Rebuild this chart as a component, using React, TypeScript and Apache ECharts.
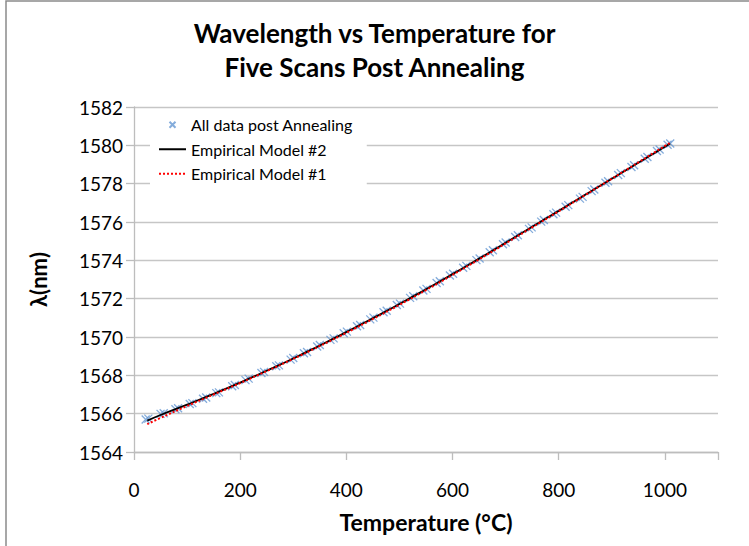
import React, { useEffect, useRef } from "react";
import * as echarts from "echarts";

const xTickValues = [0, 200, 400, 600, 800, 1000];
const yTickValues = [1564, 1566, 1568, 1570, 1572, 1574, 1576, 1578, 1580, 1582];

const scanATemp = [22, 50, 78, 105, 130, 155, 185, 210, 240, 268, 295, 320, 345, 370, 395, 420, 445, 470, 495, 520, 545, 570, 595, 620, 645, 670, 695, 718, 744, 767, 790, 813, 840, 862, 888, 912, 937, 962, 985, 1005];
const scanAWl = [1565.70, 1565.99, 1566.23, 1566.50, 1566.78, 1567.07, 1567.43, 1567.75, 1568.12, 1568.47, 1568.82, 1569.15, 1569.50, 1569.85, 1570.20, 1570.56, 1570.92, 1571.29, 1571.67, 1572.04, 1572.43, 1572.82, 1573.21, 1573.61, 1574.01, 1574.42, 1574.84, 1575.22, 1575.64, 1576.02, 1576.40, 1576.80, 1577.22, 1577.61, 1578.05, 1578.45, 1578.87, 1579.30, 1579.70, 1580.03];

const scanBTemp = [27, 56, 83, 110, 136, 160, 190, 216, 245, 273, 300, 326, 350, 376, 401, 426, 451, 476, 501, 526, 551, 576, 601, 626, 651, 676, 700, 723, 749, 772, 795, 818, 845, 867, 893, 917, 942, 967, 990, 1010];
const scanBWl = [1565.74, 1566.02, 1566.28, 1566.55, 1566.84, 1567.11, 1567.50, 1567.83, 1568.18, 1568.52, 1568.90, 1569.22, 1569.58, 1569.93, 1570.28, 1570.63, 1571.01, 1571.37, 1571.74, 1572.13, 1572.51, 1572.91, 1573.30, 1573.71, 1574.10, 1574.53, 1574.93, 1575.31, 1575.72, 1576.10, 1576.49, 1576.88, 1577.31, 1577.70, 1578.13, 1578.55, 1578.96, 1579.39, 1579.78, 1580.10];

const modelTemp = [25, 50, 100, 150, 200, 250, 300, 350, 400, 450, 500, 550, 600, 650, 700, 750, 800, 850, 900, 950, 1000, 1010];
const model2Wl = [1565.64, 1565.93, 1566.47, 1567.03, 1567.62, 1568.24, 1568.88, 1569.56, 1570.26, 1570.98, 1571.72, 1572.49, 1573.28, 1574.09, 1574.92, 1575.75, 1576.58, 1577.42, 1578.26, 1579.09, 1579.93, 1580.10];
const model1Wl = [1565.45, 1565.78, 1566.40, 1567.00, 1567.60, 1568.22, 1568.86, 1569.53, 1570.22, 1570.94, 1571.68, 1572.45, 1573.24, 1574.05, 1574.88, 1575.72, 1576.56, 1577.41, 1578.26, 1579.11, 1579.97, 1580.14];

const titleLines = ["Wavelength vs Temperature for", "Five Scans Post Annealing"];
const scanName = "All data post Annealing";
const model2Name = "Empirical Model #2";
const model1Name = "Empirical Model #1";

const zip = (a: number[], b: number[]) => a.map((v, i) => [v, b[i]]);

const FONT = "Lato, 'Open Sans', sans-serif";
const crossSymbol = "path://M0,0L10,10M10,0L0,10";
const crossIcon = "path://M0,0M14,14M4,4L10,10M10,4L4,10";

export default function App() {
  const ref = useRef<HTMLDivElement>(null);
  useEffect(() => {
    document.body.style.margin = "0";
    const chart = echarts.init(ref.current!, null, { renderer: "svg" });
    const scatterStyle = {
      color: "rgba(0,0,0,0)",
      borderColor: "#6597d2",
      borderWidth: 1.3,
    };
    chart.setOption({
      animation: false,
      backgroundColor: "#ffffff",
      textStyle: { fontFamily: FONT },
      title: {
        text: titleLines.join("\n"),
        left: "center",
        top: 11,
        textStyle: {
          fontFamily: FONT,
          fontWeight: "bold",
          fontSize: 26,
          lineHeight: 34,
          color: "#000",
        },
      },
      graphic: [
        {
          type: "rect",
          shape: { x: 6, y: 1, width: 800, height: 600 },
          style: { fill: "none", stroke: "#8a8a8a", lineWidth: 1.5 },
          silent: true,
        },
      ],
      grid: { left: 134, top: 107, right: 31, bottom: 94 },
      legend: {
        orient: "vertical",
        left: 150,
        top: 111,
        padding: [4, 14, 4, 8],
        itemWidth: 27,
        itemHeight: 14,
        itemGap: 5,
        backgroundColor: "#ffffff",
        textStyle: { fontFamily: FONT, fontSize: 16, lineHeight: 19.5, color: "#000" },
        data: [
          { name: scanName, icon: crossIcon },
          { name: model2Name, itemStyle: { opacity: 0 } },
          { name: model1Name, itemStyle: { opacity: 0 } },
        ],
      },
      xAxis: {
        type: "value",
        min: 0,
        max: 1100,
        interval: 200,
        name: "Temperature (°C)",
        nameLocation: "middle",
        nameGap: 58,
        nameTextStyle: { fontFamily: FONT, fontWeight: "bold", fontSize: 23, color: "#000" },
        axisLine: { show: true, lineStyle: { color: "#bdbdbd", width: 1.3 } },
        axisTick: { show: true, length: 8, lineStyle: { color: "#bdbdbd", width: 1.3 } },
        axisLabel: {
          fontFamily: FONT,
          fontSize: 19,
          color: "#000",
          margin: 28,
          customValues: xTickValues,
          formatter: (v: number) => String(v),
        },
        splitLine: { show: false },
      },
      yAxis: {
        type: "value",
        min: 1564,
        max: 1582,
        interval: 2,
        name: "λ(nm)",
        nameLocation: "middle",
        nameGap: 85,
        nameRotate: 90,
        nameTextStyle: { fontFamily: FONT, fontWeight: "bold", fontSize: 22, color: "#000" },
        axisLine: { show: true, lineStyle: { color: "#bdbdbd", width: 1.3 } },
        axisTick: { show: true, length: 8, lineStyle: { color: "#bdbdbd", width: 1.3 } },
        axisLabel: {
          fontFamily: FONT,
          fontSize: 19,
          color: "#000",
          margin: 11,
          customValues: yTickValues,
          formatter: (v: number) => String(v),
        },
        splitLine: { show: true, lineStyle: { color: "#c6c6c6", width: 1.3 } },
      },
      series: [
        {
          name: scanName,
          type: "scatter",
          symbol: crossSymbol,
          symbolSize: 8,
          itemStyle: scatterStyle,
          data: zip(scanATemp, scanAWl),
          z: 2,
        },
        {
          name: scanName,
          type: "scatter",
          symbol: crossSymbol,
          symbolSize: 8,
          itemStyle: scatterStyle,
          data: zip(scanBTemp, scanBWl),
          z: 2,
        },
        {
          name: model2Name,
          type: "line",
          smooth: true,
          showSymbol: false,
          symbol: "none",
          lineStyle: { color: "#000000", width: 1.8, type: "solid" },
          itemStyle: { color: "#000000" },
          data: zip(modelTemp, model2Wl),
          z: 3,
        },
        {
          name: model1Name,
          type: "line",
          smooth: true,
          showSymbol: false,
          symbol: "none",
          lineStyle: { color: "#ff0000", width: 2, type: [2, 2] },
          itemStyle: { color: "#ff0000" },
          data: zip(modelTemp, model1Wl),
          z: 4,
        },
      ],
    });
    return () => chart.dispose();
  }, []);
  return <div ref={ref} style={{ width: 749, height: 546 }} />;
}
